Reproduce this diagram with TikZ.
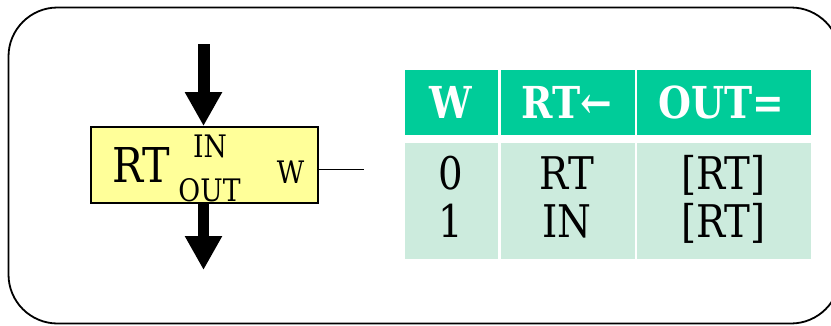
\documentclass[tikz,border=0pt]{standalone}
\usepackage{fontspec}
\setmainfont{DejaVu Serif}[FakeStretch=0.86]
\usetikzlibrary{arrows.meta}
\definecolor{hdr}{RGB}{0,204,153}
\definecolor{bdy}{RGB}{204,235,221}
\definecolor{boxy}{RGB}{255,255,153}
\tikzset{
  cellh/.style={fill=hdr, inner sep=0pt, anchor=north west},
  cellb/.style={fill=bdy, inner sep=0pt, anchor=north west},
  htext/.style={anchor=base, inner sep=0pt, text=white, font=\fontsize{44}{48}\selectfont\bfseries},
  btext/.style={anchor=base, inner sep=0pt, font=\fontsize{45}{48}\selectfont},
  stext/.style={anchor=base, inner sep=0pt, font=\fontsize{31}{34}\selectfont},
  bigarrow/.style={line width=12pt, -{Triangle[width=35pt,length=34pt]}}
}
\begin{document}
\begin{tikzpicture}[x=1pt,y=-1pt]
\useasboundingbox (0,0) rectangle (831,325);
\clip (0,0) rectangle (831,325);
\draw[line width=1.8pt, rounded corners=49pt] (8.5,7.5) rectangle (840,323.5);
% register box
\node[draw, line width=1.8pt, fill=boxy, minimum width=227pt, minimum height=75.7pt, inner sep=0pt] (box) at (204.2,164.85) {};
\node[anchor=base, inner sep=0pt, font=\fontsize{48}{50}\selectfont] (rt) at (141,182) {RT};
\node[stext] (in) at (210,157) {IN};
\node[stext] (out) at (209.5,201) {OUT};
\node[stext] (w) at (290.5,183) {W};
\coordinate (topstart) at (203.5,44);
\coordinate (botend) at (203.5,270);
\coordinate (wend) at (364,169.3);
\draw[bigarrow] (topstart) -- (topstart |- box.north);
\draw[bigarrow, line width=11pt] (botend |- box.south) -- (botend);
\draw[line width=1.4pt] (box.east |- wend) -- (wend);
% table
\node[cellh, minimum width=92.7pt, minimum height=65.7pt] (h1) at (405,69.3) {};
\node[cellh, minimum width=134.3pt, minimum height=65.7pt] (h2) at (500.7,69.3) {};
\node[cellh, minimum width=174pt, minimum height=65.7pt] (h3) at (636.7,69.3) {};
\node[cellb, minimum width=92.7pt, minimum height=116.7pt] (b1) at (405,142.3) {};
\node[cellb, minimum width=134.3pt, minimum height=116.7pt] (b2) at (500.7,142.3) {};
\node[cellb, minimum width=174pt, minimum height=116.7pt] (b3) at (636.7,142.3) {};
\node[htext] (hw) at (451,118) {W};
\node[htext] (hrt) at (567,118) {RT←};
\node[htext] (hout) at (721.5,118) {OUT=};
\node[btext] (r1a) at (451,189) {0};
\node[btext] (r1b) at (567,189) {RT};
\node[btext] (r1c) at (723.5,189) {[RT]};
\node[btext] (r2a) at (451,237) {1};
\node[btext] (r2b) at (567,237) {IN};
\node[btext] (r2c) at (723.5,237) {[RT]};
\end{tikzpicture}
\end{document}
